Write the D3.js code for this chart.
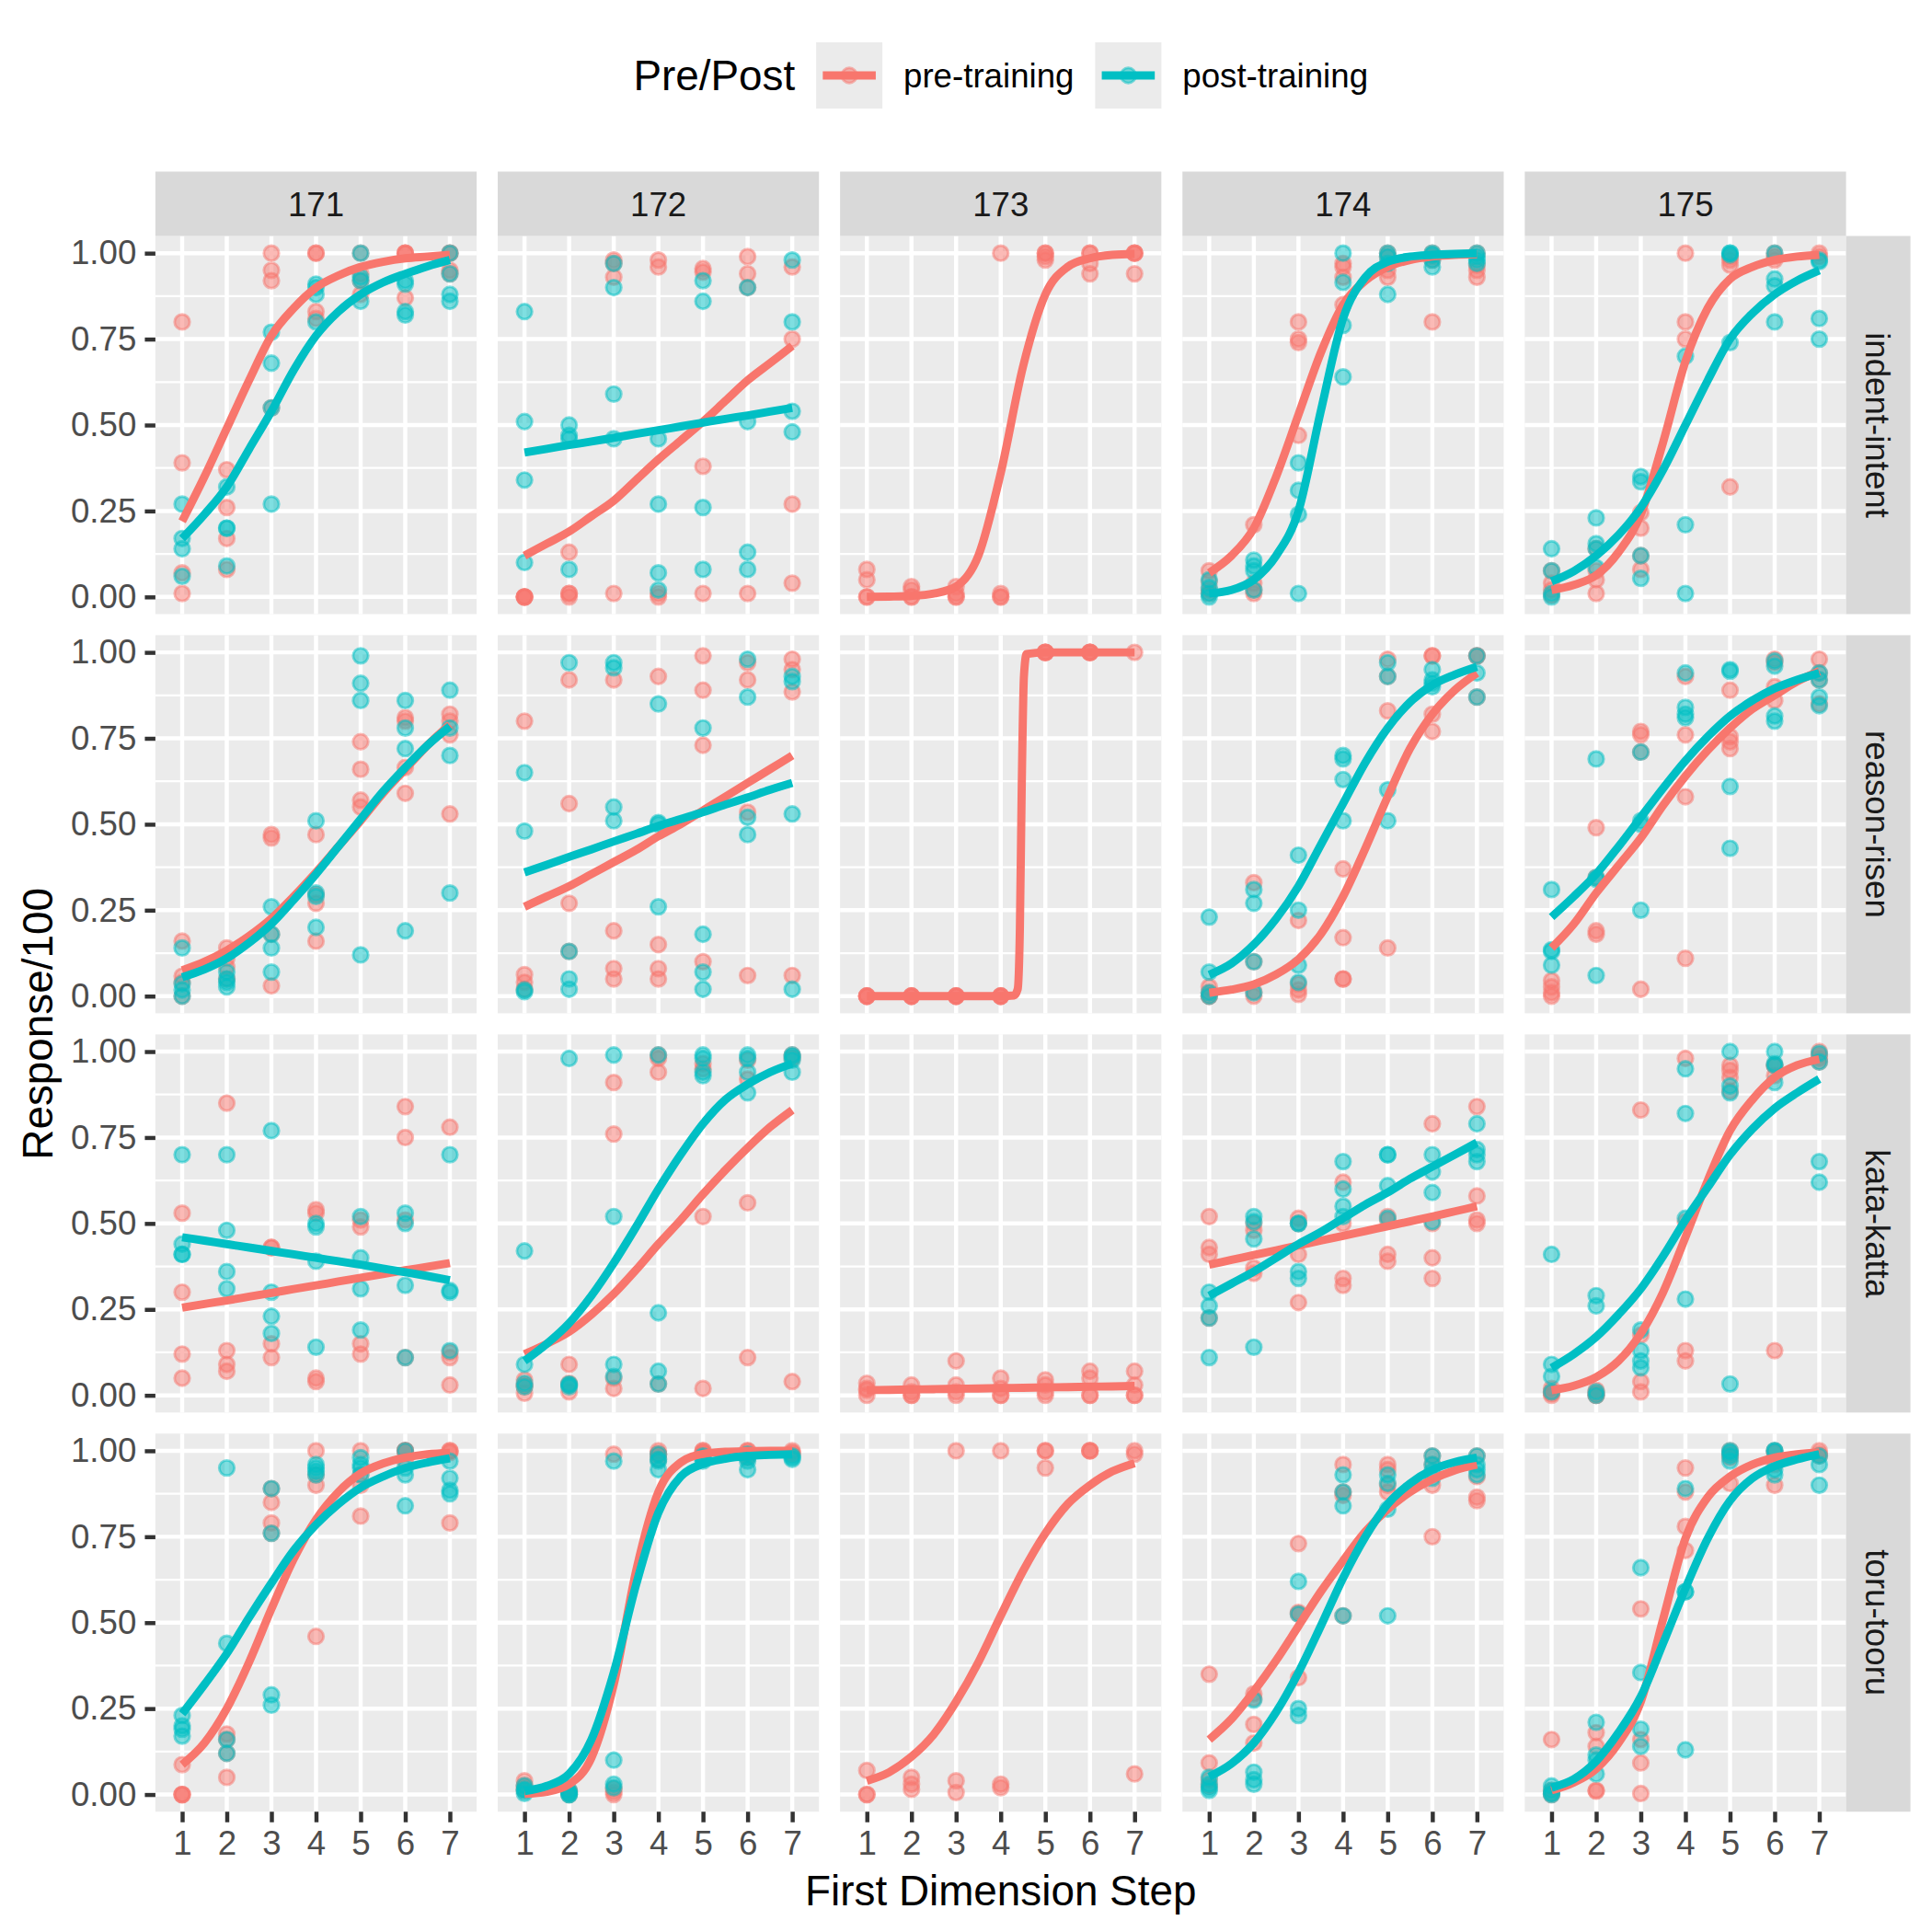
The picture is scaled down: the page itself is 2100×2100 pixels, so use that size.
<!DOCTYPE html>
<html>
<head>
<meta charset="utf-8">
<script src="https://cdn.jsdelivr.net/npm/d3@7"></script>
<style>
  body { margin: 0; background: #fff; }
  svg text { font-family: "Liberation Sans", Arial, Helvetica, sans-serif; }
</style>
</head>
<body>
<div id="chart"></div>
<script>
// facets, groups, axes
const speakers = ["171", "172", "173", "174", "175"];
const contrasts = ["indent-intent", "reason-risen", "kata-katta", "toru-tooru"];
const groups = ["pre-training", "post-training"];
const groupColors = ["#F8766D", "#00BFC4"];
const steps = [1, 2, 3, 4, 5, 6, 7];
const fitSteps = [1, 1.5, 2, 2.5, 3, 3.5, 4, 4.5, 5, 5.5, 6, 6.5, 7];
const fitSteps173Reason = [1, 2, 3, 4, 4.3, 4.38, 4.43, 4.47, 4.52, 4.58, 5, 6, 7];
const yTicks = [0, 0.25, 0.5, 0.75, 1];
const yMinor = [0.125, 0.375, 0.625, 0.875];

// responses per step (one inner list per step 1..7)
// indent-intent
const pre171Indent = [[0.80,0.39,0.07,0.01],[0.37,0.26,0.17,0.08],[1.00,0.95,0.92,0.55],[1.00,1.00,0.83,0.81],[1.00,0.94,0.92,0.88],[1.00,1.00,1.00,0.87],[1.00,1.00,0.95,0.94]];
const post171Indent = [[0.27,0.17,0.14,0.06],[0.32,0.20,0.20,0.09],[0.77,0.68,0.55,0.27],[0.91,0.90,0.88,0.80],[1.00,0.93,0.92,0.86],[0.92,0.91,0.83,0.82],[1.00,0.94,0.88,0.86]];
const pre172Indent = [[0,0,0,0],[0.13,0.01,0.00,0.01],[0.98,0.97,0.93,0.01],[0.98,0.96,0.01,0.00],[0.955,0.945,0.38,0.01],[0.99,0.94,0.90,0.01],[0.96,0.75,0.27,0.04]];
const post172Indent = [[0.83,0.51,0.34,0.10],[0.50,0.47,0.46,0.08],[0.97,0.90,0.59,0.46],[0.46,0.27,0.07,0.02],[0.92,0.86,0.26,0.08],[0.90,0.51,0.13,0.08],[0.98,0.80,0.54,0.48]];
const pre173Indent = [[0.08,0.05,0.00,0.00],[0.03,0.02,0.00,0.00],[0.03,0.01,0.00,0.00],[1.00,0.01,0.00,0.00],[1.00,0.99,0.98,1.00],[1.00,0.97,0.94,1.00],[1.00,1.00,0.94,1.00]];
const pre174Indent = [[0.076,0.045,0.02,0.01],[0.21,0.04,0.02,0.01],[0.80,0.75,0.74,0.47],[0.97,0.96,0.93,0.85],[1.00,0.99,0.95,0.93],[0.98,0.80,1.00,0.99],[0.965,0.95,0.93,1.00]];
const post174Indent = [[0.05,0.027,0.01,0.00],[0.107,0.09,0.076,0.02],[0.39,0.31,0.24,0.01],[1.00,0.915,0.79,0.64],[1.00,0.99,0.97,0.88],[0.995,0.98,0.96,1.00],[1.00,0.99,0.97,0.98]];
const pre175Indent = [[0.076,0.04,0.02,0.005],[0.14,0.076,0.05,0.01],[0.245,0.20,0.12,0.08],[1.00,0.80,0.75],[0.98,0.965,0.32,0.99],[1.00,0.98,0.99],[1.00,0.99]];
const post175Indent = [[0.14,0.076,0.01,0.00],[0.23,0.155,0.14,0.085],[0.35,0.335,0.12,0.054],[0.70,0.21,0.01],[1.00,0.995,0.74,1.00],[1.00,0.925,0.905,0.80],[0.975,0.81,0.75,0.98]];
// reason-risen
const pre171Reason = [[0.16,0.058,0.04,0.00],[0.14,0.11,0.085,0.05],[0.47,0.46,0.18,0.03],[0.47,0.295,0.27,0.16],[0.74,0.66,0.57,0.55],[0.81,0.80,0.665,0.59],[0.82,0.80,0.76,0.53]];
const post171Reason = [[0.14,0.036,0.018,0.00],[0.07,0.05,0.04,0.027],[0.26,0.18,0.14,0.07],[0.51,0.30,0.29,0.20],[0.99,0.91,0.86,0.12],[0.86,0.78,0.72,0.19],[0.89,0.78,0.70,0.30]];
const pre172Reason = [[0.80,0.0625,0.04,0.02],[0.92,0.56,0.27,0.13],[0.92,0.19,0.08,0.05],[0.93,0.15,0.08,0.05],[0.99,0.89,0.73,0.10],[0.97,0.92,0.535,0.06],[0.98,0.95,0.885,0.06]];
const post172Reason = [[0.65,0.48,0.018,0.013],[0.97,0.13,0.05,0.02],[0.97,0.955,0.55,0.51],[0.85,0.505,0.50,0.26],[0.78,0.18,0.07,0.02],[0.98,0.87,0.52,0.47],[0.93,0.915,0.53,0.02]];
const pre173Reason = [[0,0,0,0],[0,0,0,0],[0,0,0,0],[0,0,0,0],[1,1,1,1],[1,1,1,1],[1]];
const pre174Reason = [[0.027,0.01,0.00,0.00],[0.33,0.10,0.013,0.00],[0.22,0.035,0.018,0.005],[0.37,0.17,0.05,0.05],[0.98,0.93,0.83,0.14],[0.99,0.99,0.82,0.77],[0.99,0.99,0.87]];
const post174Reason = [[0.23,0.07,0.01,0.00],[0.31,0.27,0.10,0.01],[0.41,0.25,0.09,0.04],[0.70,0.69,0.63,0.51],[0.97,0.93,0.60,0.51],[0.95,0.92,0.91,0.90],[0.99,0.94,0.87]];
const pre175Reason = [[0.045,0.027,0.01,0.00],[0.49,0.345,0.19,0.18],[0.77,0.76,0.71,0.02],[0.93,0.76,0.58,0.11],[0.89,0.755,0.74,0.72],[0.98,0.97,0.90,0.86],[0.98,0.94,0.92,0.85]];
const post175Reason = [[0.31,0.135,0.13,0.09],[0.69,0.345,0.34,0.06],[0.71,0.51,0.50,0.25],[0.94,0.84,0.82,0.81],[0.95,0.945,0.61,0.43],[0.975,0.96,0.815,0.80],[0.94,0.92,0.87,0.845]];
// kata-katta
const pre171Kata = [[0.53,0.30,0.12,0.05],[0.85,0.13,0.09,0.07],[0.43,0.43,0.15,0.11],[0.54,0.53,0.05,0.04],[0.51,0.49,0.15,0.12],[0.84,0.75,0.51,0.11],[0.78,0.125,0.11,0.03]];
const post171Kata = [[0.70,0.44,0.41,0.41],[0.70,0.48,0.36,0.31],[0.77,0.30,0.23,0.18],[0.50,0.49,0.39,0.14],[0.52,0.40,0.31,0.19],[0.53,0.50,0.32,0.11],[0.70,0.305,0.30,0.13]];
const pre172Kata = [[0.045,0.03,0.025,0.006],[0.09,0.035,0.03,0.01],[0.91,0.76,0.05,0.02],[0.99,0.98,0.94,0.033],[0.965,0.95,0.52,0.02],[0.975,0.92,0.56,0.11],[0.99,0.98,0.04]];
const post172Kata = [[0.42,0.09,0.035,0.025],[0.98,0.033,0.03,0.025],[0.99,0.52,0.09,0.055],[0.99,0.24,0.07,0.033],[0.99,0.98,0.94,0.93],[0.99,0.98,0.94,0.88],[0.99,0.985,0.975,0.94]];
const pre173Kata = [[0.035,0.02,0.015,0.00],[0.03,0.01,0.00,0.00],[0.10,0.03,0.01,0.00],[0.05,0.02,0.00,0.00],[0.045,0.03,0.01,0.00],[0.07,0.05,0.00,0.00],[0.07,0.03,0.00,0.00]];
const pre174Kata = [[0.52,0.43,0.41,0.225],[0.50,0.48,0.37,0.355],[0.515,0.50,0.41,0.27],[0.62,0.50,0.34,0.32],[0.52,0.51,0.41,0.39],[0.79,0.50,0.40,0.34],[0.84,0.58,0.51,0.50]];
const post174Kata = [[0.30,0.26,0.225,0.11],[0.52,0.505,0.455,0.14],[0.50,0.50,0.36,0.34],[0.68,0.60,0.55,0.52],[0.70,0.70,0.61,0.515],[0.70,0.65,0.59,0.505],[0.79,0.715,0.70,0.68]];
const pre175Kata = [[0.02,0.01,0.006,0.00],[0.015,0.006,0.00,0.00],[0.83,0.175,0.04,0.01],[0.98,0.505,0.13,0.10],[0.96,0.945,0.925,0.885],[0.96,0.96,0.93,0.13],[1.00,0.99,0.98,0.97]];
const post175Kata = [[0.41,0.09,0.055,0.01],[0.29,0.26,0.01,0.00],[0.19,0.13,0.10,0.08],[0.95,0.82,0.515,0.28],[1.00,0.90,0.88,0.033],[1.00,0.965,0.96,0.91],[0.995,0.97,0.68,0.62]];
// toru-tooru
const pre171Toru = [[0.087,0.00,0.00,0.00],[0.176,0.16,0.12,0.05],[0.89,0.85,0.79,0.76],[1.00,0.93,0.90,0.46],[1.00,0.93,0.90,0.81],[1.00,1.00,1.00,0.97],[1.00,1.00,0.995,0.79]];
const post171Toru = [[0.23,0.20,0.19,0.17],[0.95,0.44,0.16,0.12],[0.89,0.76,0.29,0.26],[0.96,0.95,0.94,0.93],[0.98,0.96,0.95,0.93],[1.00,0.95,0.93,0.84],[0.97,0.92,0.885,0.875]];
const pre172Toru = [[0.04,0.026,0.02,0.012],[0.01,0.008,0.005,0.00],[0.99,0.017,0.008,0.00],[1.00,0.99,0.99,0.975],[1.00,1.00,0.995,0.99],[1.00,1.00,0.99,0.98],[1.00,0.995,0.99]];
const post172Toru = [[0.026,0.015,0.012,0.003],[0.012,0.005,0.00,0.00],[0.97,0.10,0.03,0.02],[0.99,0.975,0.97,0.945],[0.985,0.98,0.975,0.97],[0.99,0.98,0.97,0.945],[0.985,0.98,0.975]];
const pre173Toru = [[0.07,0.00,0.00],[0.05,0.03,0.015],[1.00,0.04,0.006],[1.00,0.03,0.02],[1.00,1.00,0.95],[1.00,1.00,1.00],[1.00,0.99,0.06]];
const pre174Toru = [[0.35,0.092,0.043,0.025],[0.293,0.28,0.204,0.15],[0.73,0.53,0.525,0.34],[0.96,0.88,0.87,0.52],[0.96,0.945,0.90,0.88],[0.985,0.96,0.90,0.75],[0.985,0.925,0.865,0.855]];
const post174Toru = [[0.05,0.03,0.02,0.012],[0.275,0.065,0.043,0.03],[0.62,0.525,0.25,0.23],[0.93,0.88,0.84,0.52],[0.93,0.905,0.83,0.52],[0.985,0.96,0.94,0.92],[0.985,0.96,0.945,0.93]];
const pre175Toru = [[0.16,0.012,0.003,0.00],[0.18,0.14,0.012,0.01],[0.54,0.16,0.092,0.003],[0.95,0.88,0.78,0.71],[1.00,0.99,0.98,0.905],[1.00,0.995,0.96,0.90],[1.00,0.99,0.985]];
const post175Toru = [[0.025,0.012,0.003,0.00],[0.21,0.115,0.10,0.06],[0.66,0.355,0.19,0.14],[0.89,0.59,0.59,0.13],[1.00,0.995,0.985,0.97],[1.00,1.00,0.945,0.93],[0.985,0.96,0.90]];

// fitted curves, read at fitSteps
const fitPre171Indent = [0.22,0.35,0.49,0.63,0.76,0.84,0.90,0.935,0.96,0.975,0.985,0.99,0.995];
const fitPost171Indent = [0.17,0.24,0.32,0.43,0.54,0.66,0.76,0.83,0.88,0.915,0.94,0.962,0.98];
const fitPre172Indent = [0.12,0.155,0.19,0.235,0.28,0.34,0.40,0.455,0.51,0.57,0.63,0.68,0.73];
const fitPost172Indent = [0.42,0.431,0.442,0.452,0.463,0.474,0.485,0.496,0.507,0.518,0.528,0.539,0.55];
const fitPre173Indent = [0.0,0.001,0.003,0.01,0.03,0.12,0.36,0.67,0.88,0.96,0.985,0.995,0.998];
const fitPre174Indent = [0.07,0.12,0.20,0.35,0.53,0.71,0.85,0.92,0.96,0.98,0.99,0.995,0.997];
const fitPost174Indent = [0.01,0.02,0.05,0.12,0.25,0.54,0.81,0.93,0.975,0.99,0.995,0.998,1.0];
const fitPre175Indent = [0.02,0.035,0.063,0.13,0.24,0.45,0.685,0.84,0.925,0.96,0.98,0.99,0.995];
const fitPost175Indent = [0.045,0.075,0.12,0.18,0.26,0.37,0.50,0.63,0.75,0.825,0.88,0.92,0.95];
const fitPre171Reason = [0.075,0.10,0.133,0.175,0.226,0.29,0.36,0.435,0.51,0.59,0.66,0.73,0.79];
const fitPost171Reason = [0.055,0.078,0.11,0.155,0.21,0.28,0.355,0.435,0.515,0.595,0.665,0.73,0.785];
const fitPre172Reason = [0.26,0.29,0.32,0.355,0.39,0.425,0.465,0.50,0.54,0.58,0.62,0.66,0.70];
const fitPost172Reason = [0.36,0.382,0.405,0.427,0.45,0.472,0.495,0.515,0.535,0.557,0.578,0.60,0.62];
const fitPre173Reason = [0,0,0,0,0.002,0.02,0.2,0.6,0.93,0.995,1,1,1];
const fitPre174Reason = [0.01,0.019,0.034,0.063,0.107,0.18,0.29,0.43,0.58,0.72,0.82,0.89,0.94];
const fitPost174Reason = [0.062,0.095,0.15,0.225,0.32,0.44,0.56,0.68,0.78,0.855,0.905,0.935,0.958];
const fitPre175Reason = [0.14,0.21,0.30,0.38,0.46,0.555,0.64,0.715,0.78,0.835,0.875,0.915,0.945];
const fitPost175Reason = [0.23,0.29,0.355,0.435,0.52,0.605,0.685,0.755,0.815,0.86,0.895,0.92,0.94];
const fitPre171Kata = [0.255,0.266,0.276,0.287,0.298,0.309,0.32,0.331,0.342,0.353,0.364,0.374,0.385];
const fitPost171Kata = [0.46,0.45,0.44,0.43,0.42,0.41,0.40,0.39,0.38,0.369,0.358,0.347,0.335];
const fitPre172Kata = [0.12,0.15,0.185,0.235,0.295,0.365,0.44,0.51,0.585,0.655,0.72,0.78,0.83];
const fitPost172Kata = [0.10,0.15,0.21,0.29,0.385,0.49,0.60,0.70,0.79,0.86,0.905,0.94,0.965];
const fitPre173Kata = [0.015,0.016,0.017,0.018,0.019,0.02,0.021,0.022,0.023,0.024,0.025,0.026,0.027];
const fitPre174Kata = [0.38,0.394,0.408,0.422,0.436,0.45,0.464,0.478,0.492,0.506,0.52,0.535,0.55];
const fitPost174Kata = [0.29,0.325,0.36,0.40,0.44,0.475,0.515,0.555,0.59,0.63,0.665,0.70,0.735];
const fitPre175Kata = [0.015,0.028,0.053,0.10,0.18,0.30,0.46,0.625,0.77,0.86,0.925,0.96,0.978];
const fitPost175Kata = [0.08,0.12,0.17,0.235,0.31,0.405,0.51,0.605,0.70,0.775,0.835,0.88,0.92];
const fitPre171Toru = [0.087,0.15,0.25,0.385,0.54,0.685,0.80,0.88,0.934,0.963,0.98,0.99,0.994];
const fitPost171Toru = [0.235,0.32,0.41,0.515,0.615,0.71,0.785,0.845,0.893,0.925,0.95,0.966,0.978];
const fitPre172Toru = [0.002,0.008,0.03,0.107,0.32,0.65,0.88,0.966,0.991,0.997,0.999,1.0,1.0];
const fitPost172Toru = [0.01,0.025,0.06,0.16,0.355,0.61,0.82,0.925,0.962,0.977,0.985,0.988,0.99];
const fitPre173Toru = [0.04,0.065,0.11,0.175,0.27,0.385,0.52,0.65,0.76,0.845,0.90,0.94,0.964];
const fitPre174Toru = [0.16,0.22,0.30,0.39,0.49,0.59,0.68,0.765,0.83,0.88,0.917,0.943,0.96];
const fitPost174Toru = [0.052,0.09,0.15,0.24,0.355,0.49,0.63,0.75,0.845,0.905,0.945,0.967,0.98];
const fitPre175Toru = [0.012,0.035,0.075,0.15,0.27,0.51,0.745,0.865,0.925,0.96,0.98,0.99,0.995];
const fitPost175Toru = [0.02,0.045,0.097,0.18,0.285,0.44,0.60,0.745,0.855,0.92,0.955,0.975,0.99];

// one row per facet panel
const panels = [
  ["171","indent-intent",pre171Indent,post171Indent,fitPre171Indent,fitPost171Indent],
  ["172","indent-intent",pre172Indent,post172Indent,fitPre172Indent,fitPost172Indent],
  ["173","indent-intent",pre173Indent,null,fitPre173Indent,null],
  ["174","indent-intent",pre174Indent,post174Indent,fitPre174Indent,fitPost174Indent],
  ["175","indent-intent",pre175Indent,post175Indent,fitPre175Indent,fitPost175Indent],
  ["171","reason-risen",pre171Reason,post171Reason,fitPre171Reason,fitPost171Reason],
  ["172","reason-risen",pre172Reason,post172Reason,fitPre172Reason,fitPost172Reason],
  ["173","reason-risen",pre173Reason,null,fitPre173Reason,null,fitSteps173Reason],
  ["174","reason-risen",pre174Reason,post174Reason,fitPre174Reason,fitPost174Reason],
  ["175","reason-risen",pre175Reason,post175Reason,fitPre175Reason,fitPost175Reason],
  ["171","kata-katta",pre171Kata,post171Kata,fitPre171Kata,fitPost171Kata],
  ["172","kata-katta",pre172Kata,post172Kata,fitPre172Kata,fitPost172Kata],
  ["173","kata-katta",pre173Kata,null,fitPre173Kata,null],
  ["174","kata-katta",pre174Kata,post174Kata,fitPre174Kata,fitPost174Kata],
  ["175","kata-katta",pre175Kata,post175Kata,fitPre175Kata,fitPost175Kata],
  ["171","toru-tooru",pre171Toru,post171Toru,fitPre171Toru,fitPost171Toru],
  ["172","toru-tooru",pre172Toru,post172Toru,fitPre172Toru,fitPost172Toru],
  ["173","toru-tooru",pre173Toru,null,fitPre173Toru,null],
  ["174","toru-tooru",pre174Toru,post174Toru,fitPre174Toru,fitPost174Toru],
  ["175","toru-tooru",pre175Toru,post175Toru,fitPre175Toru,fitPost175Toru]
].map(d => ({speaker: d[0], contrast: d[1], pts: [d[2], d[3]], fits: [d[4], d[5]], fitX: d[6] || fitSteps}));

// layout (px at 2100x2100, ggplot-like sizes at 300 dpi)
const width = 2100, height = 2100;
const left0 = 168.9, top0 = 256.5;
const panelW = 349.2, panelH = 411, gap = 22.92;
const stripH = 70, stripW = 70;
const tickLen = 11.46, tickPad = 9.17;
const majorW = 4.45, minorW = 2.22;
const fontTick = 36.67, fontTitle = 45.83;
const pointR = 8.2, pointStroke = 2.9;

const svg = d3.select("#chart").append("svg")
  .attr("width", width).attr("height", height);
svg.append("rect").attr("width", width).attr("height", height).attr("fill", "#ffffff");

const x = d3.scaleLinear().domain([0.4, 7.6]).range([0, panelW]);
const y = d3.scaleLinear().domain([-0.05, 1.05]).range([panelH, 0]);
const color = d3.scaleOrdinal().domain(groups).range(groupColors);

const line = d3.line()
  .x(d => x(d[0]))
  .y(d => y(d[1]))
  .curve(d3.curveMonotoneX);

const colX = i => left0 + i * (panelW + gap);
const rowY = i => top0 + i * (panelH + gap);

panels.forEach(p => {
  const ci = speakers.indexOf(p.speaker);
  const ri = contrasts.indexOf(p.contrast);
  const g = svg.append("g").attr("transform", "translate(" + colX(ci) + "," + rowY(ri) + ")");

  g.append("rect").attr("width", panelW).attr("height", panelH).attr("fill", "#ebebeb");

  g.selectAll(".minor").data(yMinor).enter().append("line")
    .attr("x1", 0).attr("x2", panelW)
    .attr("y1", d => y(d)).attr("y2", d => y(d))
    .attr("stroke", "#ffffff").attr("stroke-width", minorW);
  g.selectAll(".majory").data(yTicks).enter().append("line")
    .attr("x1", 0).attr("x2", panelW)
    .attr("y1", d => y(d)).attr("y2", d => y(d))
    .attr("stroke", "#ffffff").attr("stroke-width", majorW);
  g.selectAll(".majorx").data(steps).enter().append("line")
    .attr("y1", 0).attr("y2", panelH)
    .attr("x1", d => x(d)).attr("x2", d => x(d))
    .attr("stroke", "#ffffff").attr("stroke-width", majorW);

  // points
  const points = [];
  p.pts.forEach((series, gi) => {
    if (!series) return;
    series.forEach((vals, si) => {
      vals.forEach(v => points.push({step: steps[si], value: v, group: groups[gi]}));
    });
  });
  g.selectAll(".pt").data(points).enter().append("circle")
    .attr("cx", d => x(d.step))
    .attr("cy", d => y(d.value))
    .attr("r", pointR)
    .attr("fill", d => color(d.group))
    .attr("fill-opacity", 0.5)
    .attr("stroke", d => color(d.group))
    .attr("stroke-opacity", 0.5)
    .attr("stroke-width", pointStroke);

  // fitted curves
  p.fits.forEach((fit, gi) => {
    if (!fit) return;
    g.append("path")
      .datum(fit.map((v, i) => [p.fitX[i], v]))
      .attr("d", line)
      .attr("fill", "none")
      .attr("stroke", groupColors[gi])
      .attr("stroke-width", 8.9);
  });
});

// top strips
speakers.forEach((s, i) => {
  svg.append("rect")
    .attr("x", colX(i)).attr("y", top0 - stripH)
    .attr("width", panelW).attr("height", stripH)
    .attr("fill", "#d9d9d9");
  svg.append("text")
    .attr("x", colX(i) + panelW / 2).attr("y", top0 - stripH / 2)
    .attr("dy", "0.36em")
    .attr("text-anchor", "middle")
    .attr("font-size", fontTick)
    .attr("fill", "#1a1a1a")
    .text(s);
});

// right strips
const stripX = colX(speakers.length - 1) + panelW;
contrasts.forEach((c, i) => {
  svg.append("rect")
    .attr("x", stripX).attr("y", rowY(i))
    .attr("width", stripW).attr("height", panelH)
    .attr("fill", "#d9d9d9");
  svg.append("text")
    .attr("transform", "translate(" + (stripX + stripW / 2) + "," + (rowY(i) + panelH / 2) + ") rotate(90)")
    .attr("dy", "0.36em")
    .attr("text-anchor", "middle")
    .attr("font-size", fontTick)
    .attr("fill", "#1a1a1a")
    .text(c);
});

function styleAxis(ax) {
  ax.attr("font-family", null).attr("font-size", null);
  ax.select(".domain").remove();
  ax.selectAll(".tick line").attr("stroke", "#333333").attr("stroke-width", majorW);
  ax.selectAll(".tick text").attr("fill", "#4d4d4d").attr("font-size", fontTick);
}

// y axes on left column
contrasts.forEach((c, i) => {
  const ax = svg.append("g")
    .attr("transform", "translate(" + left0 + "," + rowY(i) + ")")
    .call(d3.axisLeft(y).tickValues(yTicks).tickFormat(d3.format(".2f"))
      .tickSize(tickLen).tickPadding(tickPad));
  styleAxis(ax);
});

// x axes on bottom row
speakers.forEach((s, i) => {
  const ax = svg.append("g")
    .attr("transform", "translate(" + colX(i) + "," + (rowY(contrasts.length - 1) + panelH) + ")")
    .call(d3.axisBottom(x).tickValues(steps).tickFormat(d3.format("d"))
      .tickSize(tickLen).tickPadding(tickPad));
  styleAxis(ax);
});

// axis titles
const plotCx = left0 + (speakers.length * panelW + (speakers.length - 1) * gap) / 2;
const plotCy = top0 + (contrasts.length * panelH + (contrasts.length - 1) * gap) / 2;
svg.append("text")
  .attr("x", plotCx).attr("y", 2071)
  .attr("text-anchor", "middle")
  .attr("font-size", fontTitle)
  .attr("fill", "#000000")
  .text("First Dimension Step");
svg.append("text")
  .attr("transform", "translate(57," + plotCy + ") rotate(-90)")
  .attr("text-anchor", "middle")
  .attr("font-size", fontTitle)
  .attr("fill", "#000000")
  .text("Response/100");

// legend (top, centred on panels)
const keySize = 72, legendCy = 82, legendGap = 22.92;
const legend = svg.append("g");
const title = legend.append("text")
  .attr("y", legendCy).attr("dy", "0.35em")
  .attr("font-size", fontTitle).attr("fill", "#000000")
  .text("Pre/Post");
const titleW = title.node().getComputedTextLength();
const labelNodes = groups.map(gname => legend.append("text")
  .attr("y", legendCy).attr("dy", "0.35em")
  .attr("font-size", fontTick).attr("fill", "#000000")
  .text(gname));
const labelW = labelNodes.map(n => n.node().getComputedTextLength());
const totalW = titleW + groups.length * (2 * legendGap + keySize) + d3.sum(labelW);
let cursor = plotCx - totalW / 2;
title.attr("x", cursor);
cursor += titleW + legendGap;
groups.forEach((gname, i) => {
  const k = legend.append("g").attr("transform", "translate(" + cursor + "," + (legendCy - keySize / 2) + ")");
  k.append("rect").attr("width", keySize).attr("height", keySize).attr("fill", "#ebebeb");
  k.append("circle")
    .attr("cx", keySize / 2).attr("cy", keySize / 2).attr("r", pointR)
    .attr("fill", color(gname)).attr("fill-opacity", 0.5)
    .attr("stroke", color(gname)).attr("stroke-opacity", 0.5).attr("stroke-width", pointStroke);
  k.append("line")
    .attr("x1", keySize * 0.1).attr("x2", keySize * 0.9)
    .attr("y1", keySize / 2).attr("y2", keySize / 2)
    .attr("stroke", color(gname)).attr("stroke-width", 8.9);
  cursor += keySize + legendGap;
  labelNodes[i].attr("x", cursor);
  cursor += labelW[i] + legendGap;
});
</script>
</body>
</html>
